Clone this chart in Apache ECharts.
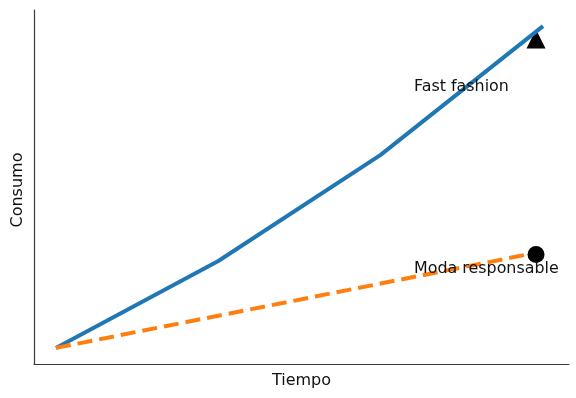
<!DOCTYPE html>
<html>
<head>
<meta charset="utf-8">
<script src="https://cdn.jsdelivr.net/npm/echarts@6/dist/echarts.min.js"></script>
<style>
html,body{margin:0;padding:0;background:#fff;}
#chart{width:576px;height:398px;}
</style>
</head>
<body>
<div id="chart"></div>
<script>
// Data
var tiempo = [0, 1, 2, 3];
var fastFashion = [100, 127, 160, 200];
var modaResponsable = [100, 110, 120, 130];
var markerX = 2.957;
var fastMarker = 196;
var modaMarker = 129;
var labelFast = 'Fast fashion';
var labelModa = 'Moda responsable';
var xName = 'Tiempo';
var yName = 'Consumo';

function pairs(xs, ys) { return xs.map(function (x, i) { return [x, ys[i]]; }); }

var chart = echarts.init(document.getElementById('chart'), null, {renderer: 'canvas'});
chart.setOption({
  animation: false,
  backgroundColor: '#ffffff',
  grid: {left: 34, top: 10, right: 7, bottom: 34, containLabel: false},
  xAxis: {
    type: 'value', min: -0.1355, max: 3.1602,
    axisLine: {show: true, onZero: false, lineStyle: {color: '#3a3a3a', width: 1.2}},
    axisTick: {show: false}, axisLabel: {show: false}, splitLine: {show: false}
  },
  yAxis: {
    type: 'value', min: 95, max: 205,
    axisLine: {show: true, onZero: false, lineStyle: {color: '#3a3a3a', width: 1.2}},
    axisTick: {show: false}, axisLabel: {show: false}, splitLine: {show: false}
  },
  series: [
    {
      type: 'scatter', data: [[markerX, fastMarker]], symbol: 'triangle', symbolSize: [19, 19],
      itemStyle: {color: '#000', opacity: 1}, z: 1, silent: true
    },
    {
      type: 'line', data: pairs(tiempo, fastFashion), showSymbol: false, symbol: 'none',
      lineStyle: {color: '#1f77b4', width: 4, cap: 'butt', join: 'round'}, z: 2
    },
    {
      type: 'line', data: pairs(tiempo, modaResponsable), showSymbol: false, symbol: 'none',
      lineStyle: {color: '#ff7f0e', width: 4, type: [15, 7], cap: 'butt'}, z: 2
    },
    {
      type: 'scatter', data: [[markerX, modaMarker]], symbol: 'circle', symbolSize: 17,
      itemStyle: {color: '#000', opacity: 1}, z: 3, silent: true
    }
  ],
  graphic: [
    {type: 'text', left: 414, top: 79, z: 10,
      style: {text: labelFast, font: '15.9px "DejaVu Sans"', fill: '#111'}},
    {type: 'text', left: 414, top: 261, z: 10,
      style: {text: labelModa, font: '15.9px "DejaVu Sans"', fill: '#111'}},
    {type: 'text', x: 301.5, y: 381, z: 10,
      style: {text: xName, font: '16px "DejaVu Sans"', fill: '#111', align: 'center', verticalAlign: 'middle'}},
    {type: 'text', x: 18, y: 190, rotation: Math.PI / 2, z: 10,
      style: {text: yName, font: '16px "DejaVu Sans"', fill: '#111', align: 'center', verticalAlign: 'middle'}}
  ]
});
</script>
</body>
</html>
